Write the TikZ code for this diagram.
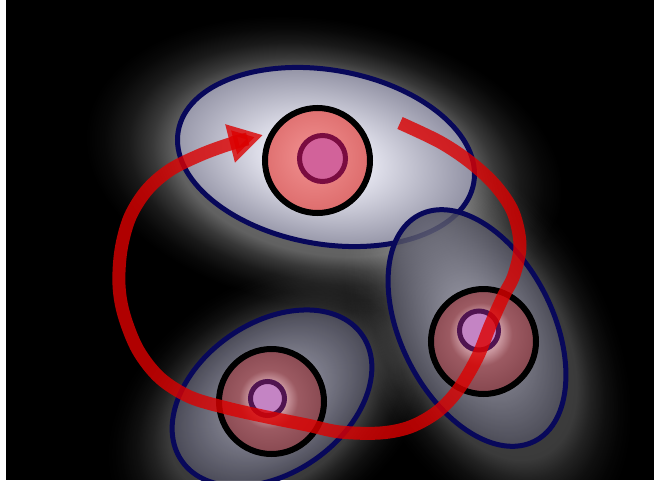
\documentclass[tikz,border=0pt]{standalone}
\usetikzlibrary{arrows.meta,fadings}
\definecolor{ellline}{HTML}{08085A}
\definecolor{te1}{HTML}{ECECF6}
\definecolor{te2}{HTML}{9494A6}
\definecolor{re1}{HTML}{A4A4B4}
\definecolor{re2}{HTML}{50505E}
\definecolor{be1}{HTML}{9E9EAE}
\definecolor{be2}{HTML}{4C4C5A}
\definecolor{tc1}{HTML}{F29292}
\definecolor{tc2}{HTML}{DE6E6E}
\definecolor{lc1}{HTML}{F0D0D8}
\definecolor{lc2}{HTML}{C8949C}
\definecolor{lc3}{HTML}{9C5A62}
\definecolor{lc4}{HTML}{8A4A52}
\definecolor{tinline}{HTML}{7A0C40}
\definecolor{tinfill}{HTML}{D2629A}
\definecolor{linline}{HTML}{501450}
\definecolor{linfill}{HTML}{C484C4}
\definecolor{redp}{HTML}{DC0000}
\pgfdeclareradialshading{glowsh}{\pgfpointorigin}{color(0bp)=(white!45!black); color(15.6bp)=(white!38!black); color(18bp)=(white!22!black); color(20.5bp)=(white!10!black); color(23bp)=(white!3!black); color(25bp)=(black); color(50bp)=(black)}
\pgfdeclarefading{glowfade}{\pgfuseshading{glowsh}}
\pgfdeclareradialshading{topellsh}{\pgfpoint{-1.5bp}{-1bp}}{color(0bp)=(te1); color(7bp)=(te1); color(25bp)=(te2); color(50bp)=(te2)}
\pgfdeclareradialshading{rightellsh}{\pgfpointorigin}{color(0bp)=(re1); color(6bp)=(re1); color(25bp)=(re2); color(50bp)=(re2)}
\pgfdeclareradialshading{botellsh}{\pgfpointorigin}{color(0bp)=(be1); color(6bp)=(be1); color(25bp)=(be2); color(50bp)=(be2)}
\pgfdeclareradialshading{topcircsh}{\pgfpoint{-2.5bp}{2.5bp}}{color(0bp)=(tc1); color(25bp)=(tc2); color(50bp)=(tc2)}
\pgfdeclareradialshading{rcircsh}{\pgfpoint{-2bp}{5bp}}{color(0bp)=(lc1); color(10bp)=(lc2); color(15bp)=(lc3); color(25bp)=(lc4); color(50bp)=(lc4)}
\pgfdeclareradialshading{bcircsh}{\pgfpoint{-2bp}{1.5bp}}{color(0bp)=(lc1); color(9bp)=(lc2); color(14bp)=(lc3); color(25bp)=(lc4); color(50bp)=(lc4)}
\tikzset{
  ellout/.style={draw=ellline, line width=5pt},
  circout/.style={draw=black, line width=6pt},
  topin/.style={draw=tinline, fill=tinfill, line width=5pt},
  lowin/.style={draw=linline, fill=linfill, line width=5pt},
  redpath/.style={draw=redp, line width=13pt, opacity=0.8, -{Triangle[length=34pt,width=37pt]}}
}
\begin{document}
\begin{tikzpicture}[x=1pt,y=-1pt]
\useasboundingbox (0,0) rectangle (654,485);
\fill[white] (0,0) rectangle (654,485);
\fill[black] (6,0) rectangle (654,480);
\begin{scope}
\clip (6,0) rectangle (654,480);
% glows
\begin{scope}[transform canvas={shift={(324,164)},rotate=-10}]
  \fill[white, path fading=glowfade] (0,0) ellipse [x radius=240, y radius=144];
\end{scope}
\begin{scope}[transform canvas={shift={(486,340)},rotate=-63}]
  \fill[white, path fading=glowfade, fill opacity=0.6] (0,0) ellipse [x radius=205, y radius=124];
\end{scope}
\begin{scope}[transform canvas={shift={(270,406)},rotate=35}]
  \fill[white, path fading=glowfade, fill opacity=0.6] (0,0) ellipse [x radius=178, y radius=122];
\end{scope}
% top ellipse
\begin{scope}[transform canvas={shift={(326,157)},rotate=-10}]
  \shade[shading=topellsh] (0,0) ellipse [x radius=150, y radius=87];
  \draw[ellout] (0,0) ellipse [x radius=150, y radius=87];
\end{scope}
% right ellipse
\begin{scope}[transform canvas={shift={(477,328)},rotate=-63}]
  \shade[shading=rightellsh, fill opacity=0.8] (0,0) ellipse [x radius=127, y radius=76];
  \draw[ellout] (0,0) ellipse [x radius=127, y radius=76];
\end{scope}
% bottom ellipse
\begin{scope}[transform canvas={shift={(272,398)},rotate=35}]
  \shade[shading=botellsh, fill opacity=0.9] (0,0) ellipse [x radius=110, y radius=75];
  \draw[ellout] (0,0) ellipse [x radius=110, y radius=75];
\end{scope}
% circles
\coordinate (ct) at (317.5,160.5);
\coordinate (cr) at (483.5,341.5);
\coordinate (cb) at (271.5,401.5);
\coordinate (it) at (322.5,158.5);
\coordinate (ir) at (479,330.5);
\coordinate (ib) at (267.5,398.5);
\shade[shading=topcircsh] (ct) circle (52.5);
\draw[circout] (ct) circle (52.5);
\draw[topin] (it) circle (23);
\shade[shading=rcircsh] (cr) circle (52.5);
\draw[circout] (cr) circle (52.5);
\draw[lowin] (ir) circle (19.5);
\shade[shading=bcircsh] (cb) circle (52.5);
\draw[circout] (cb) circle (52.5);
\draw[lowin] (ib) circle (17);
% red path
\draw[redpath] plot[smooth, tension=0.55] coordinates {
(400,123) (440,142) (470,162) (495,185) (513,212) (520,245) (514,275)
(503,297) (490,326) (477,358) (458,390) (437,412) (410,427) (380,433)
(340,432) (307,425) (267,417) (227,408) (190,397) (160,378) (138,350)
(124,315) (119,285) (121,250) (130,217) (147,190) (170,170) (200,155)
(230,144) (263,135)};
\end{scope}
\end{tikzpicture}
\end{document}
